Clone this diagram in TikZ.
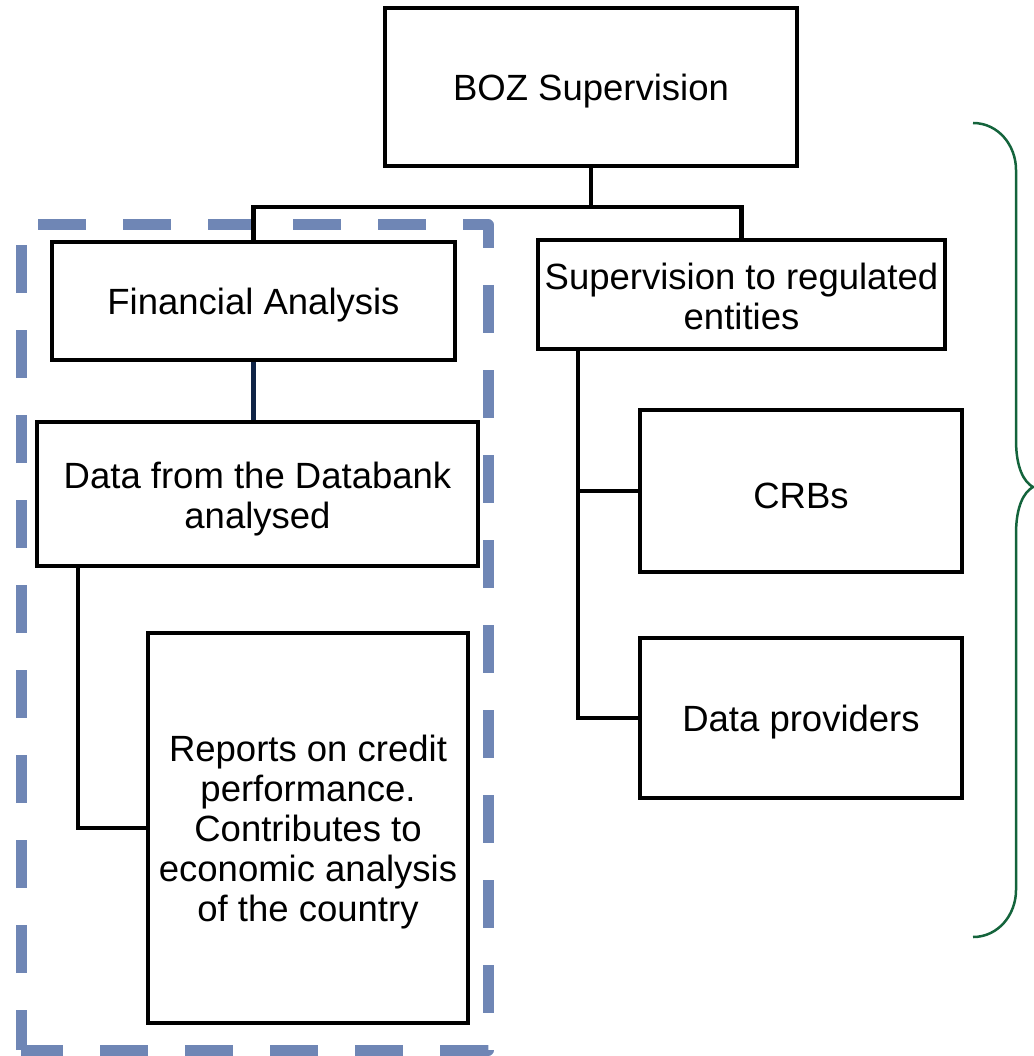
\documentclass[tikz,border=0pt]{standalone}
\usepackage{fontspec}
\setmainfont{Liberation Sans}
\definecolor{dashblue}{RGB}{111,134,181}
\definecolor{navyline}{RGB}{15,35,70}
\definecolor{bracegreen}{RGB}{20,100,60}
\begin{document}
\begin{tikzpicture}[x=1pt,y=-1pt,
  box/.style={draw=black,line width=4pt,fill=white,inner sep=0pt,align=center,
    font=\fontsize{36.5}{40}\selectfont},
  oneline/.style={text height=34.6pt},
  conn/.style={draw=black,line width=4.6pt},
  dashbox/.style={draw=dashblue,line width=11pt,line join=round,dash pattern=on 48pt off 37pt,dash phase=8pt},
  bracestyle/.style={draw=bracegreen,line width=2.5pt}]
\useasboundingbox (0,0) rectangle (1033,1056);
% dashed group
\draw[dashbox] (21,1050) -- (21,225) -- (488,225) -- (488,1050) -- cycle;
% boxes
\node[box,oneline,minimum width=412pt,minimum height=158pt] (boz) at (591,87) {BOZ Supervision};
\node[box,oneline,minimum width=403pt,minimum height=118pt] (fa) at (253.5,301) {Financial Analysis};
\node[box,minimum width=407pt,minimum height=109pt,text height=69.6pt] (sup) at (741.5,294.5) {Supervision to regulated\\entities};
\node[box,minimum width=441pt,minimum height=144pt,text height=76.6pt] (data) at (257.5,494) {Data from the Databank\\analysed};
\node[box,oneline,minimum width=322pt,minimum height=162pt] (crb) at (801,491) {CRBs};
\node[box,oneline,minimum width=322pt,minimum height=160pt] (dp) at (801,718) {Data providers};
\node[box,minimum width=320pt,minimum height=390pt,text height=194.6pt] (rep) at (308,828) {Reports on credit\\performance.\\Contributes to\\economic analysis\\of the country};
% connectors
\coordinate (j) at (591,207);
\draw[conn] (boz.south) -- (j);
\draw[conn] (fa.north) -- (fa.north |- j) -- (sup.north |- j) -- (sup.north);
\draw[draw=navyline,line width=4.6pt] (fa.south) -- (fa.south |- data.north);
\coordinate (dl) at ([xshift=43pt]data.south west);
\draw[conn] (dl) |- (rep.west);
\coordinate (sl) at ([xshift=42pt]sup.south west);
\draw[conn] (sl) |- (dp.west);
\draw[conn] (crb.west) -- (crb.west -| sl);
% brace
\coordinate (bt) at (973,123);
\coordinate (bm) at (1033,487);
\coordinate (bb) at (973,937);
\draw[bracestyle] (bt) .. controls (998,123) and (1016,145) .. (1016,170)
  -- (1016,440) .. controls (1016,468) and (1024,482) .. (bm)
  .. controls (1024,492) and (1016,506) .. (1016,534)
  -- (1016,890) .. controls (1016,915) and (998,937) .. (bb);
\end{tikzpicture}
\end{document}
